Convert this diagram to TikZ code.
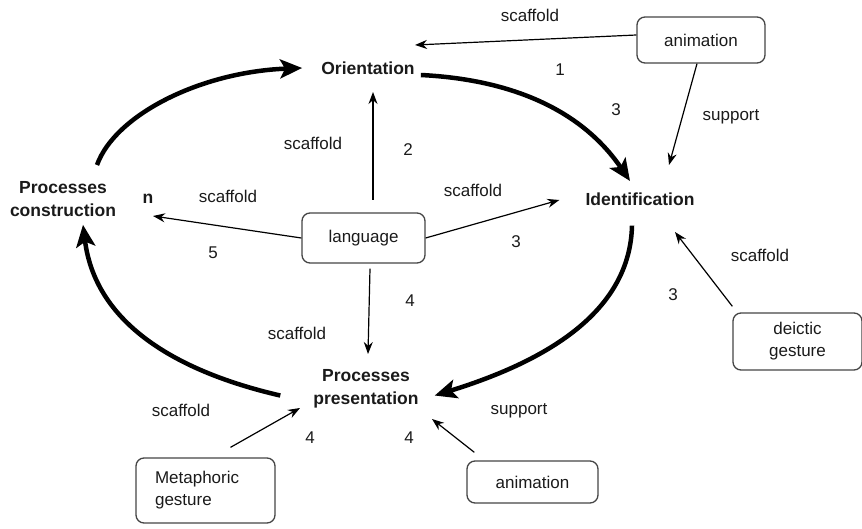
\documentclass[tikz,border=0pt]{standalone}
\usepackage{fontspec}
\setmainfont{Liberation Sans}
\usetikzlibrary{arrows.meta}
\definecolor{ink}{HTML}{1A1A1A}
\definecolor{boxline}{HTML}{454545}
\tikzset{
  box/.style={draw=boxline,line width=1.3pt,rounded corners=8pt,align=center,inner sep=0pt},
  proc/.style={font=\fontsize{17.5}{23}\selectfont\bfseries,align=center,inner sep=0pt},
  lab/.style={inner sep=0pt},
  link/.style={line width=1.2pt,-{Stealth[length=12pt,width=9pt]}},
  cycle/.style={line width=4.5pt,-{Stealth[length=22pt,width=19pt,inset=5pt]}}
}
\begin{document}
\begin{tikzpicture}[x=1pt,y=1pt,text=ink,font=\fontsize{17}{22}\selectfont]
	\useasboundingbox (0,0) rectangle (862,-529);
	% the four processes
	\node[proc] (orient) at (368,-68) {Orientation};
	\node[proc] (ident) at (640,-199) {Identification};
	\node[proc] (pres) at (366,-389) {Processes\\presentation};
	\node[proc] (cons) at (63,-199) {Processes\\construction};
	\node[proc] (ncut) at (148,-199) {n};
	% the resources
	\node[box,minimum width=128,minimum height=46] (anitop) at (701,-40) {animation};
	\node[box,minimum width=123,minimum height=50] (lang) at (363.5,-238) {language};
	\node[box,minimum width=129,minimum height=57] (deictic) at (797.5,-341.5) {deictic\\gesture};
	\node[box,minimum width=139,minimum height=65,align=left] (meta) at (205.5,-490.5) {Metaphoric\\gesture\hspace*{2.6em}};
	\node[box,minimum width=131,minimum height=42] (anibot) at (532.5,-482) {animation};
	% the cycle
	\draw[cycle] ([shift={(34,34)}]cons.center) .. controls (115,-115) and (200,-72) .. ([xshift=-19pt]orient.west);
	\draw[cycle] ([xshift=6pt,yshift=-7pt]orient.east) .. controls (520,-80) and (585,-115) .. ([shift={(-10,18)}]ident.center);
	\draw[cycle] ([shift={(-8,-20)}]ident.south) .. controls (630,-310) and (550,-360) .. ([shift={(16,13)}]pres.south east);
	\draw[cycle] ([shift={(-33,13)}]pres.south west) .. controls (170,-370) and (95,-320) .. ([shift={(20,-8)}]cons.south);
	% scaffolds and supports
	\draw[link] ([yshift=5pt]anitop.west) -- ([shift={(47,23)}]orient.center);
	\draw[link] ([xshift=-4pt]anitop.south) -- ([shift={(29,34)}]ident.center);
	\draw[link] ([shift={(9.5,38)}]lang.center) -- ([shift={(5,-24)}]orient.center);
	\draw[link] (lang.east) -- ([xshift=-26pt,yshift=-1pt]ident.west);
	\draw[link] (lang.west) -- ([shift={(5,-17)}]ncut.center);
	\draw[link] ([xshift=6.5pt,yshift=-5pt]lang.south) -- ([shift={(2,35)}]pres.center);
	\draw[link] ([yshift=6pt]deictic.north west) -- ([shift={(35,-33)}]ident.center);
	\draw[link] ([shift={(25,10)}]meta.north) -- ([shift={(-66,-19)}]pres.center);
	\draw[link] ([shift={(8,8)}]anibot.north west) -- ([shift={(66,-30)}]pres.center);
	% labels on the links
	\node[lab] (l1) at (530,-15) {scaffold};
	\node[lab] (n1) at (560,-70) {1};
	\node[lab] (n3a) at (616,-110) {3};
	\node[lab] (l2) at (731,-117) {support};
	\node[lab] (l3) at (313,-143) {scaffold};
	\node[lab] (n2) at (408,-150) {2};
	\node[lab] (l4) at (473,-190) {scaffold};
	\node[lab] (n3b) at (516,-242) {3};
	\node[lab] (l5) at (228,-196) {scaffold};
	\node[lab] (n5) at (213,-253) {5};
	\node[lab] (l6) at (297,-333) {scaffold};
	\node[lab] (n4a) at (410,-301) {4};
	\node[lab] (l7) at (760,-255) {scaffold};
	\node[lab] (n3c) at (673,-295) {3};
	\node[lab] (l8) at (181,-410) {scaffold};
	\node[lab] (n4b) at (310,-438) {4};
	\node[lab] (l9) at (519,-411) {support};
	\node[lab] (n4c) at (409,-438) {4};
\end{tikzpicture}
\end{document}
